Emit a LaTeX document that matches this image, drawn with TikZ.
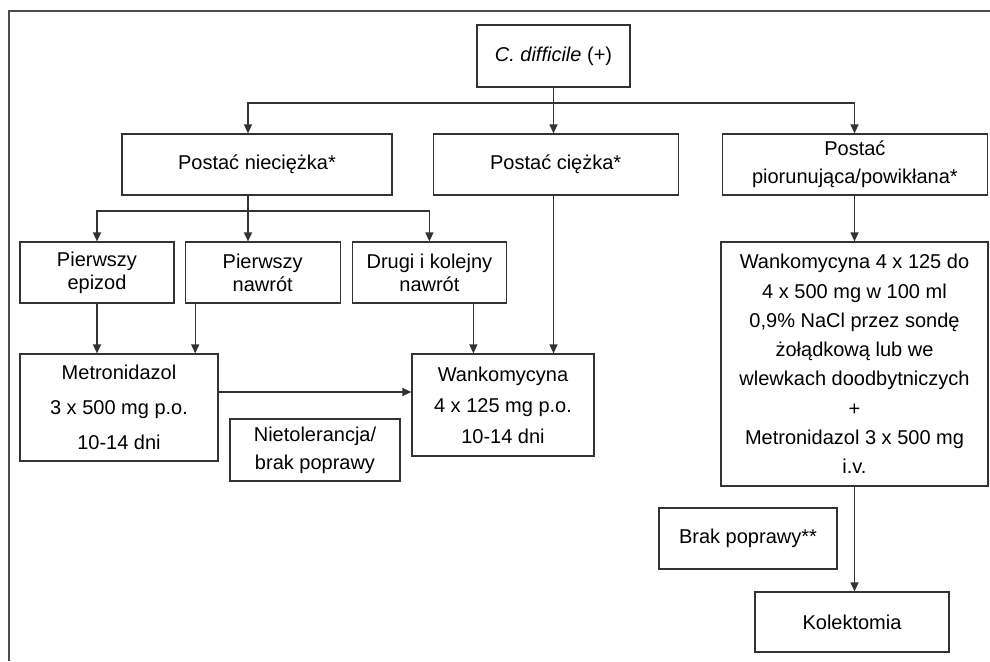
\documentclass[tikz,border=0pt]{standalone}
\usepackage{fontspec}
\setmainfont{Liberation Sans}
\usepackage{tikz}
\usetikzlibrary{arrows.meta, calc, positioning}
\newcommand{\boxfont}[1]{\fontsize{20}{#1}\selectfont}
\tikzstyle{block} = [rectangle, draw=black!80, line width=1.2pt, minimum height=61pt, inner sep=0pt, align=center, font=\boxfont{23}]
\tikzstyle{arrow} = [line width=1.2pt, draw=black!80, -{Triangle[length=9pt,width=8pt]}]
\tikzstyle{frame} = [line width=1.2pt, draw=black!70]
\begin{document}
\begin{tikzpicture}[x=1pt, y=-1pt, node distance = 10pt]
		\useasboundingbox (0,0) rectangle (990,661);
		\draw [frame] (990,11) -- (9,11) -- (9,661);
		% top
		\node (CDifficile) [block, minimum width=153pt, minimum height=62pt] at (553.5,56) {{\itshape C. difficile} (+)};
		% forms
		\node (NonSevere) [block, minimum width=270pt] at (257,164.5) {Postać nieciężka*};
		\node (Severe) [block, minimum width=245pt, right = 40pt of NonSevere] {Postać ciężka*};
		\node (Fulminant) [block, minimum width=265pt, right = 43pt of Severe, font=\boxfont{28}] {Postać\\piorunująca/powikłana*};
		% episodes
		\node (FirstEpisode) [block, minimum width=154pt] at (97,272.5) {Pierwszy\\epizod};
		\node (FirstRelapse) [block, minimum width=155pt, right = 10pt of FirstEpisode] {Pierwszy\\nawrót};
		\node (NextRelapse) [block, minimum width=154pt, right = 11pt of FirstRelapse] {Drugi i kolejny\\nawrót};
		% treatment
		\node (Metro) [block, minimum width=198pt, minimum height=107pt, font=\boxfont{35}] at (119,407.5) {Metronidazol\\3 x 500 mg p.o.\\10-14 dni};
		\node (Vanco) [block, minimum width=182pt, minimum height=102pt, font=\boxfont{31}] at (503,405) {Wankomycyna\\4 x 125 mg p.o.\\10-14 dni};
		\node (Intolerance) [block, minimum width=170pt, minimum height=62pt, font=\boxfont{28}] at (315,450) {Nietolerancja/\\brak poprawy};
		\node (VancoIV) [block, minimum width=267pt, minimum height=244pt, font=\boxfont{29.3}] at (854.5,364) {Wankomycyna 4 x 125 do\\4 x 500 mg w 100 ml\\0,9\% NaCl przez sondę\\żołądkową lub we\\wlewkach doodbytniczych\\+\\Metronidazol 3 x 500 mg\\i.v.};
		\node (NoImprovement) [block, minimum width=178pt] at (748,538.5) {Brak poprawy**};
		\node (Colectomy) [block, minimum width=194pt, minimum height=60pt] at (852,622) {Kolektomia};
		\coordinate (Split1) at (553.5,103);
		\coordinate (Split2) at (248,211);
		\draw [arrow] (CDifficile.south) -- (CDifficile.south |- Severe.north);
		\draw [arrow] (Split1) -| (Split2 |- NonSevere.north);
		\draw [arrow] (Split1) -| (VancoIV.north |- Fulminant.north);
		\draw [arrow] (Split2 |- NonSevere.south) -- (Split2 |- FirstRelapse.north);
		\draw [arrow] (Split2) -| (FirstEpisode.north);
		\draw [arrow] (Split2) -| (NextRelapse.north);
		\draw [arrow] (FirstEpisode.south) -- (FirstEpisode.south |- Metro.north);
		\draw [arrow] ([xshift=-67.5pt]FirstRelapse.south) -- ([xshift=-67.5pt]FirstRelapse.south |- Metro.north);
		\draw [arrow] ([xshift=44pt]NextRelapse.south) -- ([xshift=44pt]NextRelapse.south |- Vanco.north);
		\draw [arrow] (CDifficile.south |- Severe.south) -- (CDifficile.south |- Vanco.north);
		\draw [arrow] (Metro.east |- 0,392) -- (Vanco.west |- 0,392);
		\draw [arrow] (VancoIV.north |- Fulminant.south) -- (VancoIV.north);
		\draw [arrow] (VancoIV.south) -- (VancoIV.south |- Colectomy.north);
\end{tikzpicture}
\end{document}
